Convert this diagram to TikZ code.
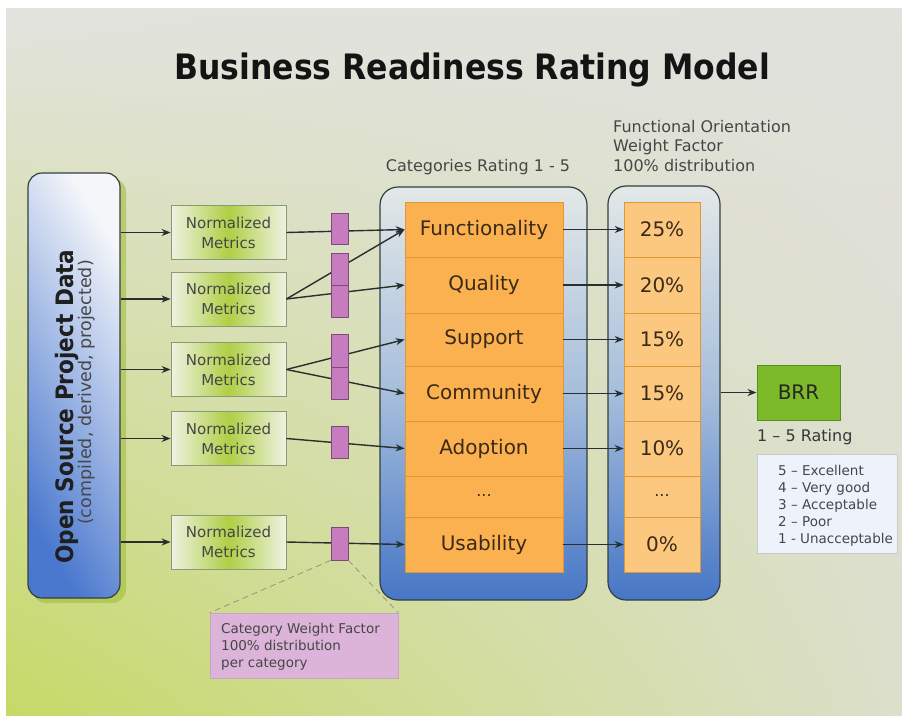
\documentclass[tikz,border=0pt]{standalone}
\usepackage{fontspec}
\setmainfont{DejaVu Sans}
\newfontfamily\condfont{DejaVu Sans Condensed}
\usetikzlibrary{arrows.meta,shadings}
\definecolor{bgUL}{HTML}{E3E3DF}
\definecolor{bgUR}{HTML}{E1E1DD}
\definecolor{bgLL}{HTML}{C6D966}
\definecolor{bgLR}{HTML}{DCDFCB}
\definecolor{linec}{HTML}{26302F}
\definecolor{boxborder}{HTML}{34403F}
\definecolor{ospdDark}{HTML}{4A78CE}
\definecolor{ospdLight}{HTML}{F4F6FA}
\definecolor{shadowgreen}{HTML}{A2BE3E}
\definecolor{nmedge}{HTML}{EEF2E2}
\definecolor{nmmid}{HTML}{AFCF45}
\definecolor{nmborder}{HTML}{8A9A76}
\definecolor{pinkfill}{HTML}{C67CBF}
\definecolor{pinkborder}{HTML}{7A4C78}
\definecolor{outerTop}{HTML}{E3E8E7}
\definecolor{outerMid}{HTML}{A6BEDC}
\definecolor{outerBot}{HTML}{4676C6}
\definecolor{catorange}{HTML}{FBB14F}
\definecolor{pctorange}{HTML}{FCC77F}
\definecolor{orangeline}{HTML}{E0973A}
\definecolor{catText}{HTML}{3A2A18}
\definecolor{labelgray}{HTML}{464646}
\definecolor{brrgreen}{HTML}{7DBA2A}
\definecolor{brrborder}{HTML}{5A8A1E}
\definecolor{calloutfill}{HTML}{DDB4D9}
\definecolor{calloutborder}{HTML}{C9A2C6}
\definecolor{ratefill}{HTML}{EEF2FA}
\definecolor{rateborder}{HTML}{C6CACF}
\definecolor{dashc}{HTML}{8E9A80}
\begin{document}
\begin{tikzpicture}[x=1pt,y=-1pt,
  conn/.style={draw=linec, line width=1.4pt},
  arr/.style={conn, -{Stealth[length=9pt,width=7pt]}},
  nmbox/.style={draw=nmborder, line width=0.8pt, minimum width=115pt, minimum height=54pt,
    align=center, inner sep=0pt, font=\fontsize{15}{20}\selectfont, text=labelgray,
    left color=nmedge, right color=nmedge, middle color=nmmid},
  pinkbox/.style={draw=pinkborder, fill=pinkfill, line width=0.8pt, minimum width=17pt, inner sep=0pt},
  outerbox/.style={draw=boxborder, line width=1.2pt, rounded corners=18pt, inner sep=0pt,
    top color=outerTop, bottom color=outerBot, middle color=outerMid},
  catrow/.style={draw=orangeline, fill=catorange, line width=0.6pt, minimum width=158pt, inner sep=0pt,
    font=\fontsize{20}{24}\selectfont, text=catText},
  pctrow/.style={draw=orangeline, fill=pctorange, line width=0.6pt, minimum width=76pt, inner sep=0pt,
    font=\fontsize{20}{24}\selectfont, text=catText},
  graylabel/.style={font=\fontsize{16}{19.5}\selectfont, text=labelgray, align=left, inner sep=0pt},
]
\useasboundingbox (0,0) rectangle (902,715);
\fill[white] (0,0) rectangle (902,715);
\shade[upper left=bgUL, upper right=bgUR, lower left=bgLL, lower right=bgLR] (6,8) rectangle (902,715);

% title
\node[anchor=base, inner sep=0pt, font=\condfont\bfseries\fontsize{35}{40}\selectfont, text=black!92] (title) at (472,79) {Business Readiness Rating Model};

% open source project data
\fill[shadowgreen, opacity=0.6, rounded corners=14pt] (32,178) rectangle (126,603);
\node[draw=boxborder, line width=1.2pt, rounded corners=14pt, minimum width=92pt, minimum height=425pt,
  inner sep=0pt, left color=ospdDark, right color=ospdLight, shading angle=122] (ospd) at (74,385.5) {};
\node[rotate=90, inner sep=0pt, font=\condfont\bfseries\fontsize{24}{28}\selectfont, text=black!88] (ospdtitle) at (67,406.5) {Open Source Project Data};
\node[rotate=90, inner sep=0pt, font=\fontsize{17.5}{20}\selectfont, text=black!72] (ospdsub) at (86.5,392.5) {(compiled, derived, projected)};

% normalized metrics
\node[nmbox] (nm1) at (228.5,232.5) {Normalized\\Metrics};
\node[nmbox] (nm2) at (228.5,299) {Normalized\\Metrics};
\node[nmbox] (nm3) at (228.5,369.5) {Normalized\\Metrics};
\node[nmbox] (nm4) at (228.5,438.5) {Normalized\\Metrics};
\node[nmbox] (nm5) at (228.5,542) {Normalized\\Metrics};

\foreach \n in {nm1,nm2,nm3,nm4,nm5}{
  \draw[arr] (ospd.east |- \n.west) -- (\n.west);
}

% outer boxes
\node[outerbox, minimum width=207pt, minimum height=413pt] (catouter) at (483.5,393.5) {};
\node[outerbox, minimum width=112pt, minimum height=414pt] (pctouter) at (664,393) {};

% category rows
\node[catrow, minimum height=55pt] (func) at (484,229.5) {Functionality};
\node[catrow, minimum height=56pt] (qual) at (484,285) {Quality};
\node[catrow, minimum height=53pt] (supp) at (484,339.5) {Support};
\node[catrow, minimum height=55pt] (comm) at (484,393.5) {Community};
\node[catrow, minimum height=55pt] (adop) at (484,448.5) {Adoption};
\node[catrow, minimum height=41pt, font=\fontsize{16}{20}\selectfont] (cdots) at (484,496.5) {\raisebox{2pt}{...}};
\node[catrow, minimum height=55pt] (usab) at (484,544.5) {Usability};

% percent rows
\node[pctrow, minimum height=55pt] (p1) at (662,229.5) {25\%};
\node[pctrow, minimum height=56pt] (p2) at (662,285) {20\%};
\node[pctrow, minimum height=53pt] (p3) at (662,339.5) {15\%};
\node[pctrow, minimum height=55pt] (p4) at (662,393.5) {15\%};
\node[pctrow, minimum height=55pt] (p5) at (662,448.5) {10\%};
\node[pctrow, minimum height=41pt, font=\fontsize{16}{20}\selectfont] (pdots) at (662,496.5) {\raisebox{2pt}{...}};
\node[pctrow, minimum height=55pt] (p6) at (662,544.5) {0\%};

% connectors metrics -> categories
\draw[arr] (nm1.east) -- (func.west);
\draw[arr] (nm2.east) -- (func.west);
\draw[arr] (nm2.east) -- (qual.west);
\draw[arr] (nm3.east) -- (supp.west);
\draw[arr] (nm3.east) -- (comm.west);
\draw[arr] (nm4.east) -- (adop.west);
\draw[arr] (nm5.east) -- (usab.west);

% pink weight boxes (over the lines)
\node[pinkbox, minimum height=31pt] (pk1) at (339.5,228.5) {};
\node[pinkbox, minimum height=32pt] (pk2a) at (339.5,269) {};
\node[pinkbox, minimum height=32pt] (pk2b) at (339.5,301) {};
\node[pinkbox, minimum height=33pt] (pk3a) at (339.5,350.5) {};
\node[pinkbox, minimum height=32pt] (pk3b) at (339.5,383) {};
\node[pinkbox, minimum height=32pt] (pk4) at (339.5,442) {};
\node[pinkbox, minimum height=33pt] (pk5) at (339.5,543.5) {};

% connectors categories -> percentages
\draw[arr] (func.east) -- (p1.west);
\draw[arr] (qual.east) -- (p2.west);
\draw[arr] (supp.east) -- (p3.west);
\draw[arr] (comm.east) -- (p4.west);
\draw[arr] (adop.east) -- (p5.west);
\draw[arr] (usab.east) -- (p6.west);

% labels
\node[anchor=base, inner sep=0pt, font=\fontsize{16}{19.5}\selectfont, text=labelgray] (catlabel) at (478,171) {Categories Rating 1 - 5};
\node[graylabel, anchor=north west] (pctlabel) at (613,120) {Functional Orientation\\Weight Factor\\100\% distribution};

% BRR
\node[draw=brrborder, fill=brrgreen, line width=1pt, minimum width=83pt, minimum height=55pt, inner sep=0pt,
  font=\fontsize{20}{24}\selectfont, text=black!85] (brr) at (798.5,392.5) {BRR};
\draw[arr] (pctouter.east |- brr.west) -- (brr.west);
\node[anchor=base west, inner sep=0pt, font=\fontsize{16}{19}\selectfont, text=black!78] (rating) at (757,441) {1 – 5 Rating};
\node[draw=rateborder, fill=ratefill, line width=0.6pt, minimum width=140pt, minimum height=99pt, inner sep=0pt] (ratebox) at (827,503.5) {};
\node[anchor=north west, inner sep=0pt, align=left, font=\fontsize{13.5}{17}\selectfont, text=labelgray] (ratetext) at (778,464.7)
  {5 – Excellent\\4 – Very good\\3 – Acceptable\\2 – Poor\\1 - Unacceptable};

% callout
\node[draw=calloutborder, fill=calloutfill, line width=0.6pt, minimum width=188pt, minimum height=65pt, inner sep=0pt] (callout) at (304,645.5) {};
\node[anchor=north west, inner sep=0pt, align=left, font=\fontsize{13.5}{17}\selectfont, text=labelgray] (callouttext) at (221,622.7)
  {Category Weight Factor\\100\% distribution\\per category};
\draw[dashc, line width=0.8pt, dash pattern=on 6pt off 4pt] (pk5.south west) -- (callout.north west);
\draw[dashc, line width=0.8pt, dash pattern=on 6pt off 4pt] (pk5.south east) -- (callout.north east);
\end{tikzpicture}
\end{document}
